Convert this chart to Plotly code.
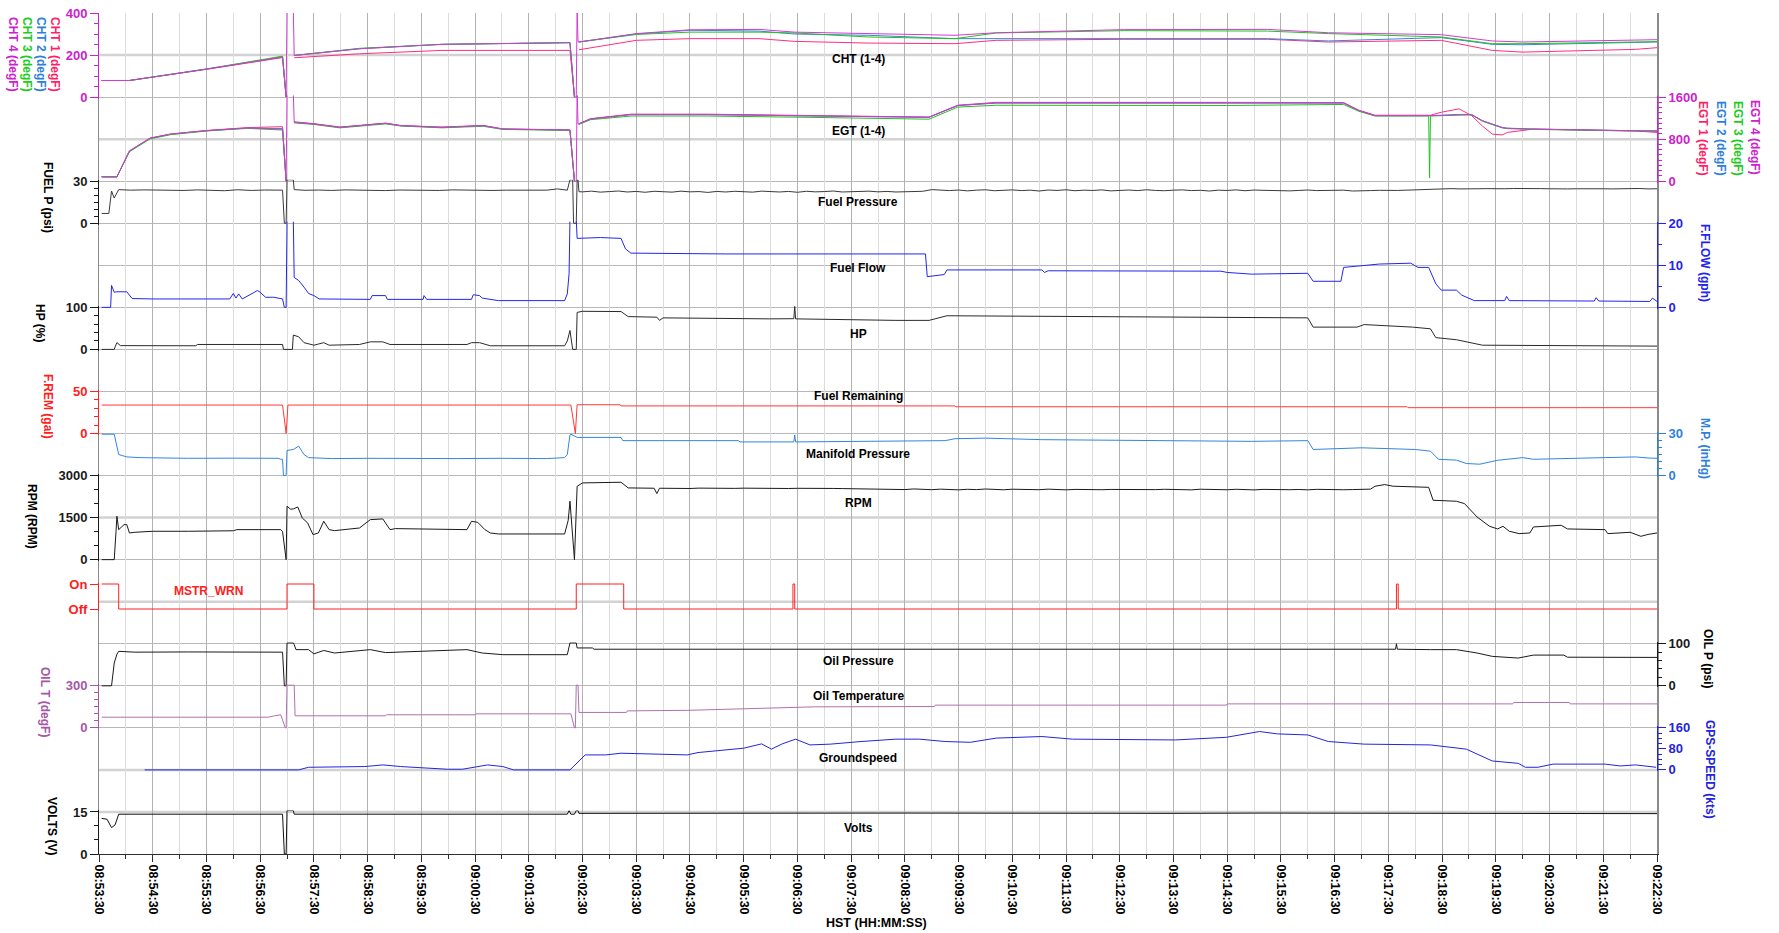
import pandas as pd
import plotly.graph_objects as go

FONT = "Liberation Sans, Arial, sans-serif"
BASE = pd.Timestamp("2000-01-01 08:53:30")

# ===================== DATA (time = seconds after 08:53:30) =====================
cht_t = [3, 34, 120, 205, 209, 210, 217, 218, 291, 383, 497, 526, 531, 533, 534, 535, 536, 600, 660, 737,
         777, 859, 956, 1002, 1145, 1305, 1373, 1499, 1556, 1590, 1716, 1740]
cht1 = [79, 79, 132, 188, 0, None, None, 187, 206, 222, 222, 222, 0, None, None, None, 225, 270, 278, 278,
        265, 257, 254, 270, 275, 275, 262, 270, 222, 214, 227, 235]
cht2 = [79, 79, 134, 192, 0, None, None, 198, 230, 251, 257, 259, 0, None, None, None, 262, 300, 318, 314,
        300, 294, 278, 278, 281, 278, 267, 283, 251, 249, 260, 262]
cht3 = [79, 79, 133, 195, 0, None, None, 198, 232, 251, 257, 259, 0, None, None, None, 262, 298, 309, 309,
        305, 286, 278, 305, 316, 314, 302, 286, 254, 254, 262, 264]
cht4 = [79, 79, 133, 190, 0, 420, 420, 198, 230, 251, 257, 259, 0, 0, 420, 262, 262, 302, 320, 322,
        309, 302, 294, 306, 321, 322, 306, 297, 267, 262, 270, 273]

egt_t = [3, 20, 34, 57, 80, 120, 166, 205, 209, 210, 217, 218, 240, 269, 320, 337, 383, 429, 451, 526,
         531, 533, 534, 535, 536, 549, 594, 680, 794, 890, 927, 959, 1002, 1259, 1390, 1407, 1425, 1485,
         1486, 1487, 1499, 1519, 1533, 1545, 1556, 1567, 1573, 1602, 1716, 1740]
egt1 = [83, 83, 576, 819, 896, 965, 1020, 1037, 0, None, None, 1130, 1095, 1030, 1105, 1060, 1030, 1060, 995, 975,
        0, None, None, None, 1095, 1190, 1275, 1275, 1250, 1235, 1220, 1445, 1500, 1500, 1495, 1350, 1255, 1255,
        1255, 1255, 1312, 1376, 1248, 1050, 896, 880, 928, 992, 955, 928]
egt2 = [83, 83, 570, 815, 893, 960, 1011, 1000, 0, None, None, 1120, 1088, 1024, 1101, 1056, 1024, 1056, 992, 973,
        0, None, None, None, 1088, 1184, 1267, 1267, 1242, 1229, 1216, 1440, 1490, 1490, 1490, 1344, 1248, 1248,
        1248, 1248, 1255, 1270, 1270, 1152, 1090, 1024, 1010, 992, 960, 960]
egt3 = [83, 83, 560, 805, 885, 955, 1005, 973, 0, None, None, 1110, 1080, 1015, 1090, 1050, 1015, 1045, 985, 965,
        0, None, None, None, 1080, 1170, 1240, 1240, 1215, 1184, 1180, 1410, 1445, 1440, 1460, 1330, 1240, 1240,
        64, 1240, 1250, 1265, 1265, 1140, 1080, 1015, 1000, 985, 955, 955]
egt4 = [83, 83, 575, 820, 898, 962, 1012, 990, 0, 1700, 1700, 1120, 1088, 1024, 1101, 1056, 1024, 1056, 992, 973,
        0, 0, 1700, 1088, 1088, 1184, 1267, 1267, 1242, 1229, 1216, 1440, 1485, 1485, 1485, 1344, 1248, 1248,
        1248, 1248, 1250, 1265, 1262, 1150, 1085, 1020, 1005, 990, 960, 950]

fuelp_t_ground = [3, 11, 14, 17, 22, 35, 50, 65, 80, 95, 110, 125, 140, 155, 170, 185, 200, 205, 207, 209,
                  210, 217, 218, 230, 245, 260, 275, 290, 305, 320, 335, 350, 365, 380, 395, 410, 425, 440,
                  455, 470, 485, 500, 512, 518, 523, 526, 529, 530, 533, 534, 535, 536]
fuelp_v_ground = [7, 7, 23, 18, 24, 23.6, 23.8, 23.5, 23.7, 23.4, 23.8, 23.6, 23.2, 23.9, 23.4, 23.7, 23.5, 23.6, 0, 0,
                  31, 31, 24, 23.5, 23.7, 23.4, 23.8, 23.5, 23.6, 23.3, 23.7, 23.5, 23.6, 23.4, 23.8, 23.5, 23.7, 23.4,
                  23.6, 23.5, 23.3, 23.6, 24.5, 24.0, 23.6, 31, 31, 0, 0, 31, 31, 22.5]
fuelp_t_flight = list(range(540, 1741, 10))
fuelp_v_flight = [22.4, 22.9, 22.2, 22.6, 23.0, 22.3, 22.7, 22.1, 22.8, 22.5,
                  22.2, 22.9, 22.4, 22.6, 22.0, 22.7, 22.3, 22.8, 22.5, 22.2,
                  22.9, 22.6, 22.3, 22.7, 22.1, 22.8, 22.4, 22.6, 23.0, 22.3,
                  22.5, 22.2, 22.9, 22.4, 22.7, 22.3, 22.6, 22.5, 22.8,
                  24.0, 23.8, 23.3, 23.7, 23.1, 23.6, 23.9, 23.2, 23.5, 23.8,
                  23.3, 23.6, 23.0, 23.7, 23.4, 23.9, 23.2, 23.6, 23.4, 23.8,
                  23.1, 23.5, 23.7, 23.3, 23.9, 23.4, 23.2, 23.6, 23.8, 23.3,
                  23.5, 23.0, 23.6, 23.4, 23.8, 23.2, 23.7, 23.5, 23.3, 23.6,
                  23.1, 23.4, 23.7, 23.3, 23.5, 23.2, 23.6, 23.0, 23.4, 23.3,
                  23.5, 23.2, 23.4, 23.6, 23.9, 24.2, 24.4, 24.6,
                  24.7, 24.5, 24.8, 24.6, 24.7, 24.5, 24.6, 24.8, 24.6, 24.5,
                  24.7, 24.6, 24.8, 24.5, 24.6, 24.7, 24.9, 24.6, 24.5, 24.7,
                  24.6, 24.8, 24.5, 24.6]

ff_t = [3, 13, 14, 17, 20, 31, 37, 60, 146, 150, 153, 156, 160, 177, 180, 186, 195, 205, 207, 209,
        210, 217, 218, 223, 229, 234, 240, 246, 303, 305, 320, 322, 362, 363, 366, 416, 418, 425, 428, 440,
        446, 520, 523, 525, 526, 533, 534, 560, 583, 588, 594, 700, 800, 923, 925, 944, 947, 1053, 1056, 1060,
        1253, 1260, 1287, 1350, 1356, 1387, 1390, 1430, 1465, 1473, 1485, 1493, 1499, 1516, 1522, 1536, 1570,
        1572, 1575, 1670, 1672, 1675, 1732, 1735, 1740]
ff_v = [0, 0, 5.2, 3.6, 3.7, 3.7, 2.1, 2.0, 2.0, 3.3, 2.2, 3.2, 2.0, 4.0, 3.6, 2.4, 2.4, 2.0, 0, 0,
        21, 21, 7.1, 6.4, 4.8, 3.3, 2.8, 2.0, 1.9, 2.8, 2.8, 1.9, 1.9, 2.8, 1.9, 1.9, 3.0, 2.8, 2.2, 1.8,
        1.6, 1.6, 3.2, 8.0, 21, 21, 16.4, 16.6, 16.4, 13.9, 12.9, 12.7, 12.7, 12.7, 7.3, 7.8, 8.9, 8.9, 8.3, 8.7,
        8.6, 8.3, 7.9, 8.1, 6.2, 6.2, 9.5, 10.3, 10.5, 9.5, 9.5, 5.6, 4.1, 4.1, 2.9, 1.6, 1.6,
        2.6, 1.6, 1.5, 2.3, 1.5, 1.4, 2.2, 1.4]

hp_t = [3, 17, 18, 20, 24, 108, 110, 205, 206, 216, 217, 223, 229, 240, 251, 257, 291, 303, 317, 325,
        411, 416, 425, 437, 520, 523, 526, 529, 533, 534, 540, 583, 591, 623, 626, 630, 749, 776, 777, 778,
        890, 927, 947, 1350, 1356, 1405, 1413, 1467, 1487, 1493, 1516, 1545, 1740]
hp_v = [0, 0, 6, 16, 9, 8.6, 11.7, 11.7, 0, 0, 34, 30, 16, 10, 16, 10, 11.7, 18, 18, 11.7,
        11.7, 16, 16, 8.6, 8.6, 20, 45, 0, 0, 88, 90.6, 90, 78, 76.6, 69, 75, 72.6, 73, 102, 72.6,
        69, 69, 80, 75, 53, 53, 59, 53, 49, 28, 23, 10, 7.8]

frem_t = [3, 205, 209, 211, 527, 532, 534, 582, 583, 956, 957, 1461, 1462, 1740]
frem_v = [33.8, 33.8, 0, 33.8, 33.8, 0, 34.2, 34.2, 32.8, 32.8, 31.8, 31.8, 30.7, 30.7]

mp_t = [3, 17, 22, 31, 45, 100, 150, 200, 203, 205, 206, 209, 210, 217, 223, 229, 234, 260, 300, 350,
        400, 450, 500, 520, 523, 526, 527, 534, 583, 585, 714, 716, 776, 777, 778, 945, 956, 990, 1053, 1287,
        1350, 1356, 1410, 1470, 1487, 1496, 1516, 1527, 1542, 1562, 1590, 1602, 1659, 1716, 1730, 1740]
mp_v = [29.5, 29.5, 15, 13.3, 12.8, 12.3, 12.4, 12.3, 11.6, 11.6, 0, 0, 17.9, 18.6, 21, 15, 12.8, 12.1, 12.3, 12.1,
        12.1, 12.3, 12.1, 12.8, 15, 29, 29.5, 27.2, 27.2, 24.9, 24.9, 24, 24, 29, 24, 24.9, 26.3, 26.7, 25.6, 24.4,
        24.9, 18.6, 19.8, 18.6, 17.4, 11.6, 11, 8.6, 8.1, 10.9, 12.8, 11.6, 12.3, 13.3, 12.5, 12.3]

rpm_t_ground = [3, 17, 19, 20, 22, 28, 31, 34, 40, 60, 100, 150, 154, 200, 203, 205, 209, 210, 214, 217,
                222, 227, 233, 239, 245, 251, 257, 263, 291, 303, 317, 325, 331, 411, 416, 423, 431, 437, 446, 520,
                524, 526, 529, 531, 534, 540, 583, 591, 620, 623, 626, 630]
rpm_v_ground = [0, 0, 1000, 1547, 1071, 1250, 1250, 952, 976, 1012, 1012, 1030, 1071, 1071, 1071, 1000, 0, 1904, 1800, 1809,
                1880, 1488, 1309, 893, 952, 1369, 1071, 1035, 1130, 1428, 1452, 1071, 1107, 1071, 1369, 1330, 1071, 952, 916, 916,
                1400, 2083, 600, 0, 2618, 2737, 2761, 2559, 2547, 2356, 2547, 2545]
rpm_t_flight = list(range(640, 1421, 10))
rpm_v_flight = [2545, 2550, 2538, 2552, 2545, 2540, 2548, 2542, 2550, 2545,
                2540, 2547, 2551, 2538, 2545, 2549, 2541, 2546, 2540, 2535,
                2530, 2520, 2512, 2525, 2505, 2518, 2500, 2522, 2510, 2496,
                2515, 2502, 2490, 2510, 2498, 2520, 2505, 2493, 2512, 2500,
                2508, 2495, 2515, 2500, 2490, 2506, 2498, 2512, 2494, 2505,
                2500, 2515, 2492, 2507, 2498, 2510, 2495, 2503, 2490, 2512,
                2497, 2505, 2493, 2510, 2500, 2488, 2506, 2498, 2512, 2495,
                2503, 2490, 2508, 2497, 2505, 2493, 2500, 2510, 2515]
rpm_t_tail = [1425, 1436, 1445, 1485, 1490, 1516, 1525, 1539, 1553, 1562, 1568, 1575, 1586, 1598, 1602, 1633,
              1640, 1682, 1685, 1710, 1722, 1730, 1740]
rpm_v_tail = [2618, 2678, 2620, 2580, 2118, 2083, 2000, 1523, 1190, 1095, 1190, 1012, 928, 952, 1166, 1226,
              1095, 1071, 928, 976, 833, 900, 952]

mstr_t = [3, 22, 210, 240, 533, 586, 775, 777, 1449, 1451, 1740]
mstr_v = [1, 0, 1, 0, 1, 0, 1, 0, 1, 0, 0]

oilp_t = [3, 14, 17, 20, 22, 40, 100, 200, 205, 207, 209, 210, 217, 218, 220, 234, 240, 251, 263, 303,
          320, 411, 428, 451, 523, 526, 533, 534, 551, 553, 700, 900, 1100, 1448, 1449, 1450, 1487, 1516, 1539, 1556,
          1585, 1602, 1636, 1640, 1740]
oilp_v = [0, 0, 54, 75, 82, 80, 80.5, 80, 80, 0, 0, 102, 102, 98, 86, 86, 76, 84, 78, 86,
          79, 86, 78, 74, 74, 102, 102, 90, 90, 87, 87, 87, 87, 87, 100, 87, 86, 86, 78, 70,
          66, 73, 73, 68, 67.5]

oilt_t = [3, 189, 196, 203, 208, 209, 210, 218, 219, 320, 321, 420, 421, 527, 531, 532, 533, 535, 536, 589,
          590, 657, 800, 933, 934, 1259, 1260, 1579, 1580, 1642, 1643, 1740]
oilt_v = [76, 76, 86, 93, 0, 0, 305, 305, 86, 86, 93, 93, 100, 100, 0, 0, 305, 305, 110, 110,
          121, 125, 150, 152, 162, 162, 171, 171, 181, 181, 171, 171]

gps_t = [51, 223, 234, 297, 317, 337, 389, 406, 434, 451, 463, 526, 543, 566, 583, 657, 669, 720, 740, 751,
         763, 778, 794, 817, 851, 890, 916, 945, 973, 1002, 1053, 1087, 1202, 1259, 1296, 1316, 1350, 1373, 1413,
         1487, 1527, 1556, 1585, 1593, 1607, 1624, 1682, 1699, 1716, 1739]
gps_v = [0, 0, 10, 12.7, 19, 12.7, 2.5, 2.5, 19, 12.7, 0, 0, 57, 57, 63.5, 57, 66, 82.6, 99, 79,
         99, 117, 95, 98, 108, 117, 117, 108, 105, 121, 127, 117, 114, 124, 146, 137, 133, 108, 98,
         95, 79, 34, 25, 10, 10, 22, 22, 15, 19, 10]

volts_t = [3, 9, 14, 18, 22, 205, 207, 209, 210, 217, 218, 523, 525, 527, 531, 533, 535, 536, 900, 1000,
           1100, 1200, 1300, 1400, 1500, 1740]
volts_v = [12.7, 12.4, 9.4, 10.4, 14.2, 14.2, 0, 0, 15.5, 15.5, 14.2, 14.2, 15.5, 14.2, 14.2, 15.5, 15.5, 14.5, 14.6, 14.5,
           14.6, 14.5, 14.6, 14.5, 14.4, 14.4]

tick_fmt = "%H:%M:%S"

# ===================== LAYOUT HELPERS =====================
W, H = 1779, 933
L_PX, R_PX, T_PX, B_PX = 99, 1657, 13, 854
PH = B_PX - T_PX
PW = R_PX - L_PX


def fy(py):
    return 1 - (py - T_PX) / PH


def fx(px):
    return (px - L_PX) / PW


def gy(k):  # k-th horizontal grid line (0..20) in px
    return T_PX + PH * k / 20.0


def tx(sec):
    return BASE + pd.to_timedelta(sec, unit="s")


C_CHT = ["#ff2d7f", "#3a84d6", "#1fc41f", "#d23ad2"]
C_TTL = ["#ff1f66", "#2f7fd8", "#1ecc1e", "#cc22cc"]
MAG = "#cc22cc"
FF_BLUE = "#2424f0"
MP_BLUE = "#2f80d8"
RED = "#ff2020"
PURPLE = "#a458a4"
GPS_BLUE = "#2424dc"
BLK = "#1a1a1a"


def panel_axis(top_px, bot_px, vmin, vmax, side, color, dtick=None, minor=None, pad=1.5,
               tickvals=None, ticktext=None):
    upp = (vmax - vmin) / (bot_px - top_px)
    d0, d1 = fy(bot_px), fy(top_px)
    lo = pad if d0 - pad / PH >= 0 else 0
    hi = pad if d1 + pad / PH <= 1 else 0
    ax = dict(domain=[d0 - lo / PH, d1 + hi / PH], range=[vmin - lo * upp, vmax + hi * upp],
              anchor="x", side=side, showgrid=False, zeroline=False, automargin=False,
              ticklabeloverflow="allow",
              showline=True, linecolor=color, linewidth=1,
              ticks="outside", ticklen=8, tickwidth=1, tickcolor=color,
              tickfont=dict(color=color, size=13, family=FONT, weight="bold"),
              fixedrange=True)
    if tickvals is not None:
        ax.update(tickmode="array", tickvals=tickvals, ticktext=ticktext)
    else:
        ax.update(tickmode="linear", tick0=vmin, dtick=dtick)
    if minor:
        ax["minor"] = dict(dtick=minor, tick0=vmin, ticks="outside", ticklen=4, tickcolor=color, showgrid=False)
    return ax


layout_axes = {}
panels = [
    # (name, top px, bottom px, vmin, vmax, side, color, dtick, minor)
    ("cht", gy(0), gy(2), 0, 400, "left", MAG, 200, 50),
    ("egt", gy(2), gy(4), 0, 1600, "right", MAG, 800, 100),
    ("fuelp", gy(4), gy(5), 0, 30, "left", BLK, 30, 5),
    ("ff", gy(5), gy(7), 0, 20, "right", FF_BLUE, 10, 5),
    ("hp", gy(7), gy(8), 0, 100, "left", BLK, 100, 20),
    ("frem", gy(9), gy(10), 0, 50, "left", RED, 50, 10),
    ("mp", gy(10), gy(11), 0, 30, "right", MP_BLUE, 30, 5),
    ("rpm", gy(11), gy(13), 0, 3000, "left", BLK, 1500, 500),
    ("mstr", 584, 609, 0, 1, "left", RED, None, None),
    ("oilp", gy(15), gy(16), 0, 100, "right", BLK, 100, 20),
    ("oilt", gy(16), gy(17), 0, 300, "left", PURPLE, 300, 50),
    ("gps", gy(17), gy(18), 0, 160, "right", GPS_BLUE, 80, 20),
    ("volts", gy(19), gy(20), 0, 15, "left", BLK, 15, 5),
]
yref = {}
for i, (name, tp, bp, vmin, vmax, side, col, dt, mn) in enumerate(panels):
    n = i + 2
    if name == "mstr":
        ax = panel_axis(tp, bp, vmin, vmax, side, col, tickvals=[0, 1], ticktext=["Off", "On"])
    else:
        ax = panel_axis(tp, bp, vmin, vmax, side, col, dt, mn)
    layout_axes["yaxis%d" % n] = ax
    yref[name] = "y%d" % n

fig = go.Figure()

# invisible trace on the background axes (grid host)
fig.add_trace(go.Scatter(x=[tx(0), tx(1740)], y=[None, None], mode="lines", xaxis="x", yaxis="y",
                         hoverinfo="skip", showlegend=False))


def add(t, v, name, color, shape="linear"):
    fig.add_trace(go.Scatter(x=tx(t), y=v, mode="lines", xaxis="x", yaxis=yref[name],
                             line=dict(color=color, width=1, shape=shape),
                             hoverinfo="skip", showlegend=False, connectgaps=False))


for vals, c in zip([cht1, cht2, cht3, cht4], C_CHT):
    add(cht_t, vals, "cht", c)
for vals, c in zip([egt1, egt2, egt3, egt4], C_CHT):
    add(egt_t, vals, "egt", c)
add(fuelp_t_ground + fuelp_t_flight, fuelp_v_ground + fuelp_v_flight, "fuelp", "#3a3a3a")
add(ff_t, ff_v, "ff", FF_BLUE)
add(hp_t, hp_v, "hp", "#2a2a2a")
add(frem_t, frem_v, "frem", "#ff3838")
add(mp_t, mp_v, "mp", "#3385dd")
add(rpm_t_ground + rpm_t_flight + rpm_t_tail, rpm_v_ground + rpm_v_flight + rpm_v_tail, "rpm", BLK)
add(mstr_t, mstr_v, "mstr", RED, shape="hv")
add(oilp_t, oilp_v, "oilp", BLK)
add(oilt_t, oilt_v, "oilt", "#b070b0")
add(gps_t, gps_v, "gps", GPS_BLUE)
add(volts_t, volts_v, "volts", "#111111")

dark_k = [0, 2, 4, 5, 6, 7, 8, 9, 10, 11, 13, 15, 16, 17, 20]
light_k = [1, 3, 12, 14, 18, 19]

shapes = [dict(type="line", xref="paper", yref="paper", x0=0, x1=1, y0=1 - k / 20, y1=1 - k / 20,
               line=dict(color="#d2d2d2", width=2.5), layer="below") for k in light_k]

ann = []


def label(text, px, py, color="black", angle=0, size=12):
    ann.append(dict(text=text, x=fx(px), y=fy(py), xref="paper", yref="paper", showarrow=False,
                    xanchor="center", yanchor="middle", textangle=angle,
                    font=dict(family=FONT, size=size, color=color, weight="bold")))


# panel captions
for txt, py in [("CHT (1-4)", 59), ("EGT (1-4)", 131), ("Fuel Pressure", 202), ("Fuel Flow", 268),
                ("HP", 334), ("Fuel Remaining", 396), ("Manifold Pressure", 454), ("RPM", 503),
                ("Oil Pressure", 661), ("Oil Temperature", 696), ("Groundspeed", 758), ("Volts", 828)]:
    label(txt, 858, py)
label("MSTR_WRN", 208, 591, RED)

# left titles (rotated)
for txt, px, col in [("CHT 1 (degF)", 55, C_TTL[0]), ("CHT 2 (degF)", 41, C_TTL[1]),
                     ("CHT 3 (degF)", 27, C_TTL[2]), ("CHT 4 (degF)", 13, C_TTL[3])]:
    label(txt, px, 54, col, 90)
label("FUEL P (psi)", 48, 198, "black", 90)
label("HP (%)", 40, 323, "black", 90)
label("F.REM (gal)", 48, 407, RED, 90)
label("RPM (RPM)", 32, 516, "black", 90)
label("OIL T (degF)", 45, 702, PURPLE, 90)
label("VOLTS (V)", 52, 826, "black", 90)

# right titles (rotated)
for txt, px, col in [("EGT 1 (degF)", 1703, C_TTL[0]), ("EGT 2 (degF)", 1721, C_TTL[1]),
                     ("EGT 3 (degF)", 1738, C_TTL[2]), ("EGT 4 (degF)", 1755, C_TTL[3])]:
    label(txt, px, 138, col, 90)
label("F.FLOW (gph)", 1705, 263, FF_BLUE, 90)
label("M.P. (inHg)", 1705, 448, MP_BLUE, 90)
label("OIL P (psi)", 1708, 659, "black", 90)
label("GPS-SPEED (kts)", 1710, 769, GPS_BLUE, 90)

# x title
label("HST (HH:MM:SS)", 876, 923, "black", 0, 12.5)

t0 = BASE.strftime("%Y-%m-%d %H:%M:%S")
t_end = tx(1740).strftime("%Y-%m-%d %H:%M:%S")
t_minor0 = tx(30).strftime("%Y-%m-%d %H:%M:%S")

fig.update_layout(
    template="none",
    width=W, height=H, autosize=False,
    margin=dict(l=L_PX, r=W - R_PX, t=T_PX, b=H - B_PX, pad=0, autoexpand=False),
    paper_bgcolor="white", plot_bgcolor="rgba(0,0,0,0)",
    showlegend=False, hovermode=False,
    font=dict(family=FONT, size=12, color="black"),
    xaxis=dict(type="date", domain=[0, 1], anchor="y", range=[t0, t_end], automargin=False,
               ticklabeloverflow="allow",
               tickmode="linear", tick0=t0, dtick=60000, tickformat=tick_fmt, tickangle=90,
               ticks="outside", ticklen=7, tickwidth=1, tickcolor="#303030",
               tickfont=dict(size=12.5, color="black", family=FONT, weight="bold"),
               showgrid=True, gridcolor="#b2b2b2", gridwidth=1,
               minor=dict(tick0=t_minor0, dtick=60000, ticks="outside", ticklen=4, tickcolor="#303030",
                          showgrid=True, gridcolor="#dcdcdc", gridwidth=1),
               showline=True, linecolor="#303030", linewidth=1, zeroline=False, fixedrange=True),
    yaxis=dict(domain=[0, 1], range=[0, 20], tickmode="array", tickvals=[20 - k for k in dark_k],
               showgrid=True, gridcolor="#b8b8b8", gridwidth=1, showticklabels=False, ticks="",
               zeroline=False, showline=True, mirror=True, linecolor="#8a8a8a", linewidth=1.5,
               automargin=False, fixedrange=True),
    shapes=shapes,
    annotations=ann,
    **layout_axes,
)

# the page body normally adds an 8px margin around the figure; remove it so the figure fills the window
fig.write_html("out.html", config={"displayModeBar": False, "staticPlot": True},
               post_script="document.body.style.margin='0';document.body.style.overflow='hidden';")
